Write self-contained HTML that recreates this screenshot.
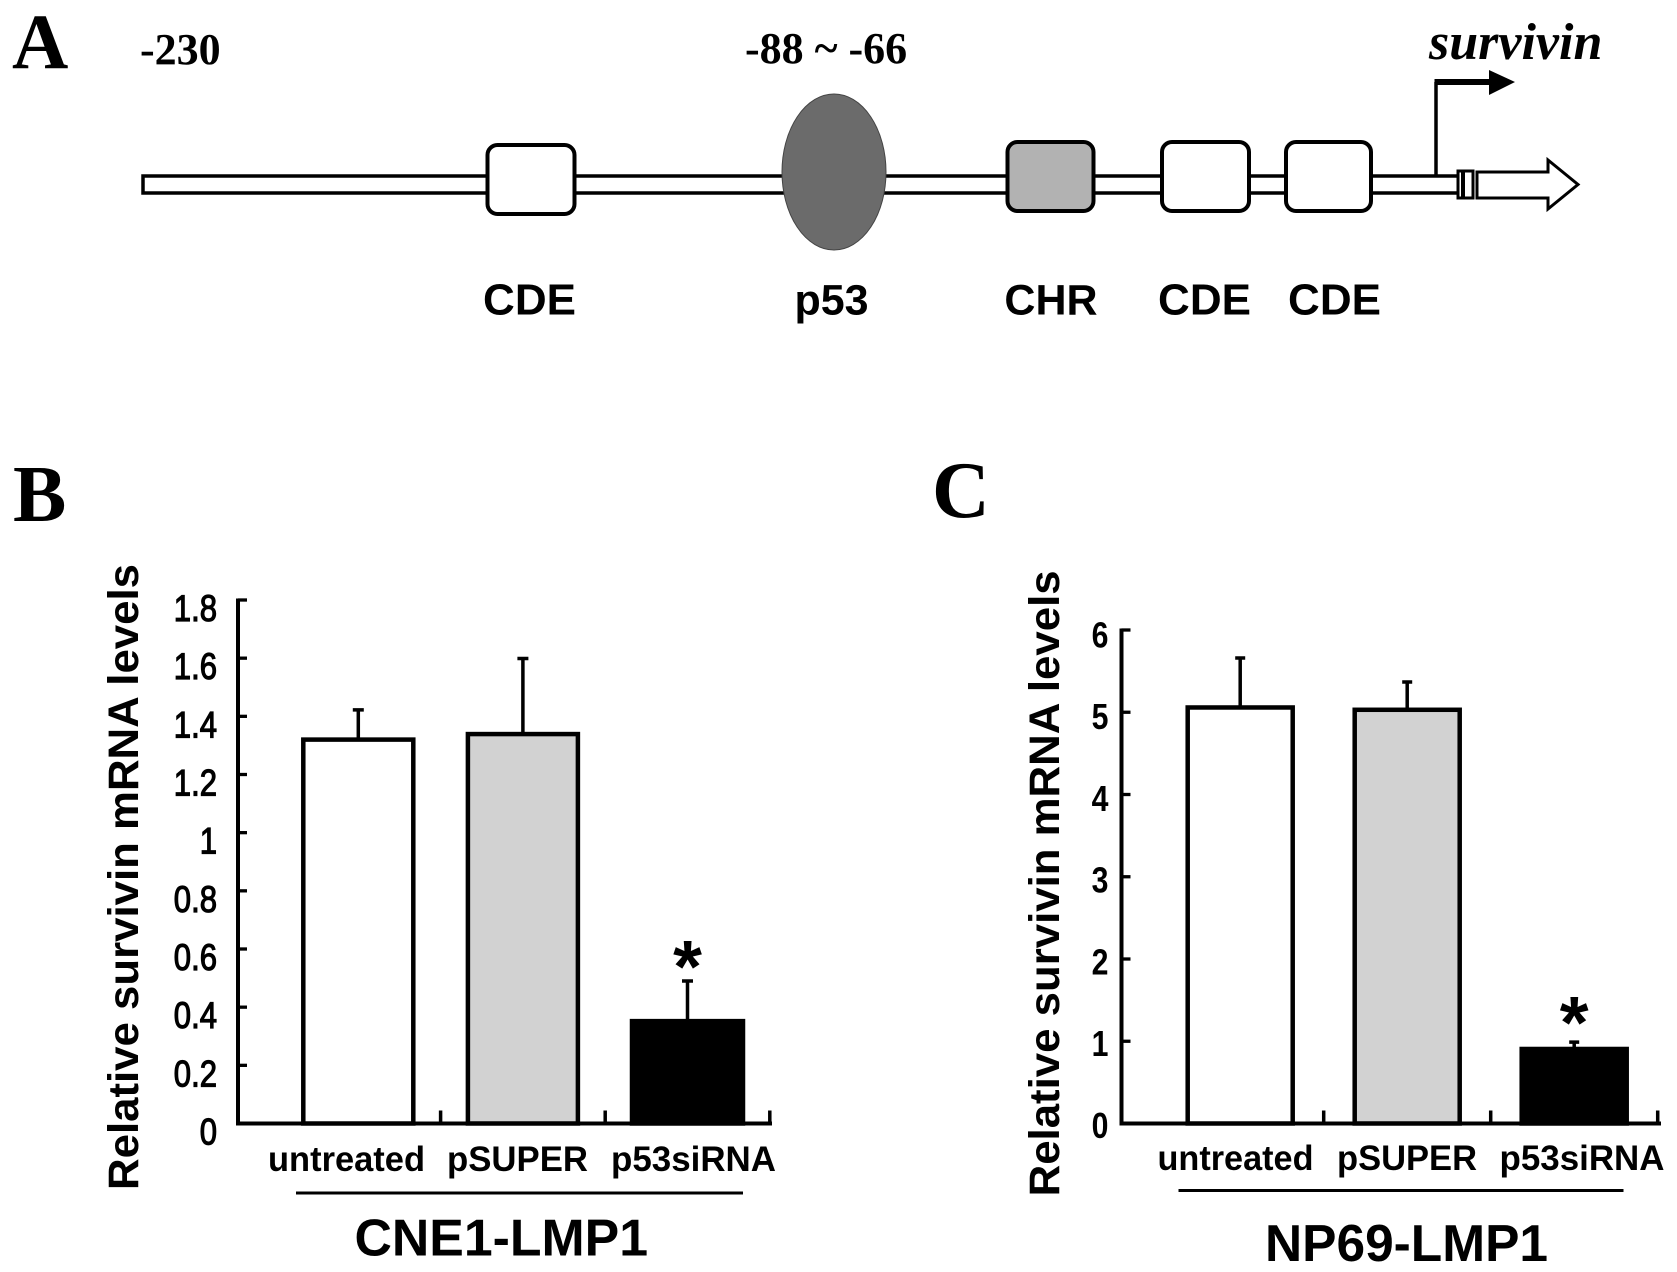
<!DOCTYPE html>
<html lang="en">
<head>
<meta charset="utf-8">
<title>Survivin promoter and mRNA levels</title>
<style>
html,body{margin:0;padding:0;background:#fff;width:1677px;height:1272px;overflow:hidden}
svg{display:block}
.serif{font-family:"Liberation Serif",serif;font-weight:bold;fill:#000}
.sans{font-family:"Liberation Sans",sans-serif;fill:#000}
</style>
</head>
<body>
<svg id="figure" xmlns="http://www.w3.org/2000/svg" width="1677" height="1272" viewBox="0 0 1677 1272">
  <rect x="0" y="0" width="1677" height="1272" fill="#fff"/>

  <g>
    <text class="serif" x="12" y="68" font-size="78">A</text>
    <text class="serif" x="140" y="64" font-size="44">-230</text>
    <text class="serif" x="745" y="63" font-size="44">-88 ~ -66</text>
    <text class="serif" x="1429" y="59" font-size="52" font-style="italic">survivin</text>

    <rect x="143" y="176" width="1316" height="17" fill="#fff" stroke="#000" stroke-width="3.5"/>

    <rect x="487.5" y="145" width="87" height="69" rx="10" fill="#fff" stroke="#000" stroke-width="4"/>
    <ellipse cx="834" cy="172" rx="52" ry="78" fill="#6b6b6b" stroke="#444" stroke-width="1"/>
    <rect x="1007.5" y="142" width="86" height="69" rx="10" fill="#b2b2b2" stroke="#000" stroke-width="4"/>
    <rect x="1162" y="142" width="87" height="69" rx="10" fill="#fff" stroke="#000" stroke-width="4"/>
    <rect x="1286" y="142" width="85" height="69" rx="10" fill="#fff" stroke="#000" stroke-width="4"/>

    <path d="M1436 175V82" fill="none" stroke="#000" stroke-width="3.5"/>
    <path d="M1434.5 82H1492" fill="none" stroke="#000" stroke-width="6"/>
    <polygon points="1489,70 1515,82 1489,95" fill="#000"/>

    <rect x="1458" y="171" width="15" height="27" fill="#fff" stroke="#000" stroke-width="3"/>
    <path d="M1463 171V198" fill="none" stroke="#000" stroke-width="4"/>
    <polygon points="1477,172 1548,172 1548,160 1578,184.5 1548,209 1548,198 1477,198" fill="#fff" stroke="#000" stroke-width="3"/>

    <text class="sans" font-weight="bold" x="529.5" y="314.5" font-size="44" text-anchor="middle">CDE</text>
    <text class="sans" font-weight="bold" x="834" y="314.5" font-size="43" text-anchor="middle" dx="-2.5">p53</text>
    <text class="sans" font-weight="bold" x="1051" y="314.5" font-size="43" text-anchor="middle">CHR</text>
    <text class="sans" font-weight="bold" x="1204.5" y="314.5" font-size="44" text-anchor="middle">CDE</text>
    <text class="sans" font-weight="bold" x="1334.5" y="314.5" font-size="44" text-anchor="middle">CDE</text>
  </g>

  <text class="serif" x="13" y="521" font-size="80">B</text>
  <text class="serif" x="932" y="517" font-size="80">C</text>

  <g id="chart-b"></g>
  <g id="chart-c"></g>
</svg>

<script>
// Chart data
const categories = ['untreated', 'pSUPER', 'p53siRNA'];
const meansB = [1.32, 1.339, 0.352];
const errorTopsB = [1.422, 1.599, 0.49];
const ticksB = [0, 0.2, 0.4, 0.6, 0.8, 1, 1.2, 1.4, 1.6, 1.8];
const tickLabelsB = ['0', '0.2', '0.4', '0.6', '0.8', '1', '1.2', '1.4', '1.6', '1.8'];
const meansC = [5.058, 5.03, 0.906];
const errorTopsC = [5.66, 5.368, 0.99];
const ticksC = [0, 1, 2, 3, 4, 5, 6];
const tickLabelsC = ['0', '1', '2', '3', '4', '5', '6'];
const significance = ['', '', '*'];

const SVGNS = 'http://www.w3.org/2000/svg';

function make(tag, attrs, parent, text) {
  const el = document.createElementNS(SVGNS, tag);
  for (const k in attrs) el.setAttribute(k, attrs[k]);
  if (text !== undefined) el.textContent = text;
  parent.appendChild(el);
  return el;
}

const barFills = ['#fff', '#d2d2d2', '#000'];

function drawChart(root, means, errorTops, ticks, tickLabels, layout) {
  const maxV = ticks[ticks.length - 1];
  const y = v => layout.y0 - (v / maxV) * (layout.y0 - layout.y1);
  const xc = i => layout.x0 + layout.band * (i + 0.5);

  categories.forEach((cat, i) => {
    const cx = xc(i);
    const w = i === 2 ? layout.blackW : layout.barW;
    const cap = layout.capW / 2;
    const err = make('path', {
      d: 'M' + cx + ' ' + y(means[i]) + 'V' + y(errorTops[i]) + 'M' + (cx - cap) + ' ' + y(errorTops[i]) + 'H' + (cx + cap),
      fill: 'none', stroke: '#000', 'stroke-width': 3.5
    }, root);
    
    

    const bar = make('rect', {
      x: cx - w / 2, y: y(means[i]), width: w, height: layout.y0 - y(means[i]),
      fill: barFills[i], stroke: '#000', 'stroke-width': 4.5
    }, root);
    
    

    if (significance[i]) {
      const star = make('text', {
        class: 'sans', x: cx, y: y(errorTops[i]) + layout.starDy,
        'font-size': 74, 'font-weight': 'bold', 'text-anchor': 'middle'
      }, root, significance[i]);
      
      
    }

    const lab = make('text', {
      class: 'sans', x: layout.catX[i], y: layout.catY, 'font-size': 35, 'font-weight': 'bold',
      textLength: layout.catW[i], lengthAdjust: 'spacingAndGlyphs'
    }, root, cat);
    
    

    const xt = make('path', {
      d: 'M' + (layout.x0 + layout.band * (i + 1)) + ' ' + layout.y0 + 'v-13',
      stroke: '#000', 'stroke-width': 3.5, fill: 'none'
    }, root);
    
    
  });

  const yAxis = make('path', {
    d: 'M' + layout.axisX + ' ' + (layout.y0 + 2) + 'V' + (layout.y1 - 1.5),
    stroke: '#000', 'stroke-width': 4, fill: 'none'
  }, root);
  
  

  const xAxis = make('path', {
    d: 'M' + (layout.axisX - 2) + ' ' + layout.y0 + 'H' + layout.axisEnd,
    stroke: '#000', 'stroke-width': 4, fill: 'none'
  }, root);
  
  

  ticks.forEach((t, i) => {
    const tick = make('path', {
      d: 'M' + layout.axisX + ' ' + y(t) + 'h9',
      stroke: '#000', 'stroke-width': 3.3, fill: 'none'
    }, root);
    
    

    const ly = layout.labelY0 + (y(t) - layout.y0) * layout.labelK;
    const label = make('text', {
      class: 'sans', 'font-size': layout.tickFont, 'text-anchor': 'end',
      'font-weight': layout.tickWeight, stroke: layout.tickStroke ? '#000' : 'none',
      'stroke-width': layout.tickStroke,
      transform: 'translate(' + layout.labelX + ' ' + ly + ') scale(0.84 1)'
    }, root, tickLabels[i]);
    
    
  });

  const title = make('text', {
    class: 'sans', 'font-size': 43, 'font-weight': 'bold',
    textLength: layout.titleLen, lengthAdjust: 'spacingAndGlyphs',
    transform: 'translate(' + layout.titleX + ' ' + layout.titleY + ') rotate(-90)'
  }, root, 'Relative survivin mRNA levels');
  
  

  const rule = make('path', {
    d: 'M' + layout.ruleX1 + ' ' + layout.ruleY + 'H' + layout.ruleX2,
    stroke: '#000', 'stroke-width': 3, fill: 'none'
  }, root);
  
  

  const group = make('text', {
    class: 'sans', x: layout.groupX, y: layout.groupY, 'font-size': 52, 'font-weight': 'bold',
    textLength: layout.groupW, lengthAdjust: 'spacingAndGlyphs'
  }, root, layout.groupName);
  
  
}

drawChart(document.getElementById('chart-b'), meansB, errorTopsB, ticksB, tickLabelsB, {
  x0: 276, band: 164.6, barW: 110, blackW: 111, capW: 11, y0: 1123.5, y1: 600, axisX: 238, axisEnd: 772,
  labelX: 217, labelY0: 1144.5, labelK: 1, tickFont: 37, tickWeight: 'normal', tickStroke: 1.2,
  catX: [268, 447, 611], catW: [157, 141, 165], catY: 1171,
  titleX: 138, titleY: 1190, titleLen: 626,
  ruleX1: 296, ruleX2: 743, ruleY: 1193,
  groupName: 'CNE1-LMP1', groupX: 354.5, groupY: 1255.5, groupW: 293.5, starDy: 11
});

drawChart(document.getElementById('chart-c'), meansC, errorTopsC, ticksC, tickLabelsC, {
  x0: 1156.7, band: 167, barW: 105, blackW: 105, capW: 10, y0: 1123.5, y1: 630, axisX: 1121.5, axisEnd: 1661,
  labelX: 1108.5, labelY0: 1138, labelK: 0.994, tickFont: 36, tickWeight: 'bold', tickStroke: 0,
  catX: [1157.5, 1337, 1499.5], catW: [156, 140, 165], catY: 1170,
  titleX: 1059, titleY: 1196.4, titleLen: 626,
  ruleX1: 1178.5, ruleX2: 1623.5, ruleY: 1190.5,
  groupName: 'NP69-LMP1', groupX: 1265, groupY: 1261, groupW: 283, starDy: 6
});
</script>
</body>
</html>
